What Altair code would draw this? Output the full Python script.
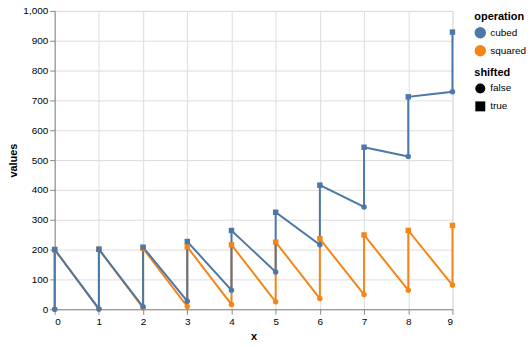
import altair as alt
import pandas as pd

xs = [0, 1, 2, 3, 4, 5, 6, 7, 8, 9]
cubed = [0, 1, 8, 27, 64, 125, 216, 343, 512, 729]
cubed_shifted = [200, 201, 208, 227, 264, 325, 416, 543, 712, 929]
squared = [0, 1, 4, 9, 16, 25, 36, 49, 64, 81]
squared_shifted = [200, 201, 204, 209, 216, 225, 236, 249, 264, 281]

rows = []
for op, base, sh in [("squared", squared, squared_shifted), ("cubed", cubed, cubed_shifted)]:
    for i, x in enumerate(xs):
        rows.append({"x": x, "values": base[i], "operation": op, "shifted": False})
        rows.append({"x": x, "values": sh[i], "operation": op, "shifted": True})
df = pd.DataFrame(rows)

chart = alt.Chart(df).mark_line(point=True).encode(
    x=alt.X("x:Q"),
    y=alt.Y("values:Q"),
    color=alt.Color("operation:N"),
    shape=alt.Shape("shifted:N"),
).properties(
    width=400, height=300,
    padding={"left": 7, "top": 5, "right": 5, "bottom": 5},
).configure(font="Liberation Sans")

chart.save("out.html", embed_options={"renderer": "svg", "actions": False})
